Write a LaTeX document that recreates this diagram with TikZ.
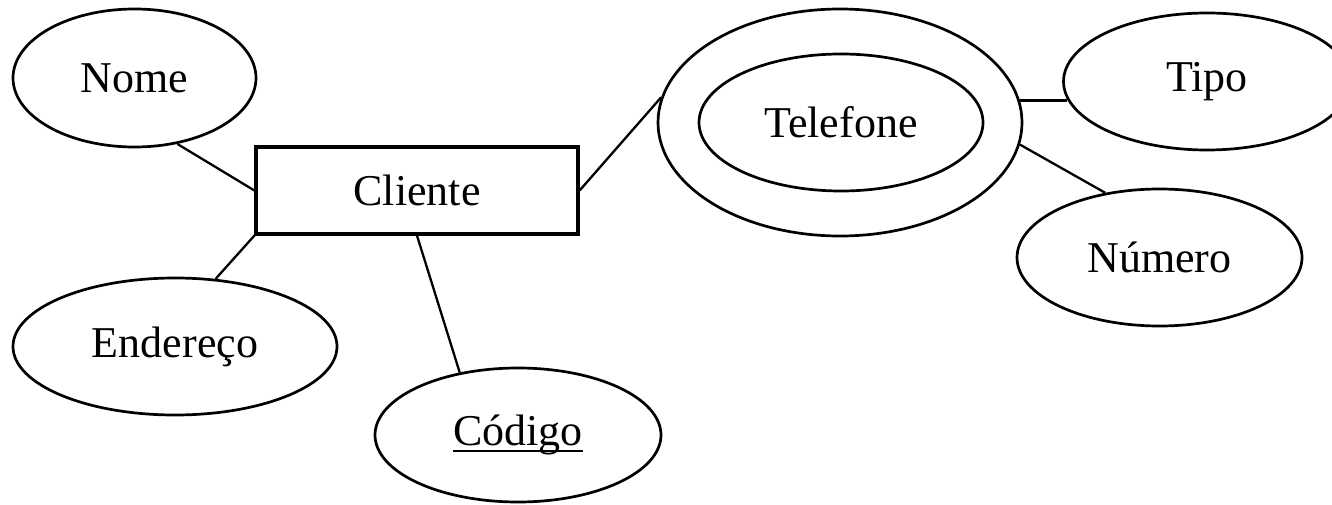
\documentclass[tikz,border=0pt]{standalone}
\usepackage{fontspec}
\setmainfont{Liberation Serif}
\usetikzlibrary{shapes.geometric}
\newcommand\myul[1]{\setbox0\hbox{#1}\rlap{\rule[-6pt]{\wd0}{2pt}}\box0}
\tikzset{
  attr/.style={ellipse, draw, line width=2.7pt, inner sep=0pt, font=\fontsize{44}{48}\selectfont},
  ent/.style={rectangle, draw, line width=3.2pt, inner sep=0pt, font=\fontsize{44}{48}\selectfont},
  conn/.style={line width=2.3pt}
}
\begin{document}
\begin{tikzpicture}[x=1pt,y=1pt]
\useasboundingbox (0,0) rectangle (1332,504);
\node[ent, minimum width=322pt, minimum height=87pt] (cli) at (417,313.5) {Cliente};
\node[attr, minimum width=243pt, minimum height=138pt] (nome) at (134.5,426) {Nome};
\node[attr, minimum width=324pt, minimum height=137pt] (end) at (175,157.5) {Endereço};
\node[attr, minimum width=286pt, minimum height=134pt] (cod) at (518,69) {\myul{Código}};
\node[attr, minimum width=364pt, minimum height=227pt] (tel) at (840,381.5) {};
\node[attr, minimum width=284pt, minimum height=137pt] (telin) at (841,381.5) {Telefone};
\node[attr, minimum width=287pt, minimum height=137pt] (tipo) at (1207,422.5) {Tipo};
\node[attr, minimum width=285pt, minimum height=137pt] (num) at (1159.5,246.5) {Número};
\draw[conn] (nome.-57) -- (cli.west);
\draw[conn] (cli.south west) -- (end.59);
\draw[conn] (cli.south) -- (cod.133.7);
\draw[conn] (cli.east) -- (tel.172.8);
\draw[conn] (tel.7.4) -- (tipo.187 |- tel.7.4);
\draw[conn] (tel.-7.5) -- (num.130.6);
\end{tikzpicture}
\end{document}
